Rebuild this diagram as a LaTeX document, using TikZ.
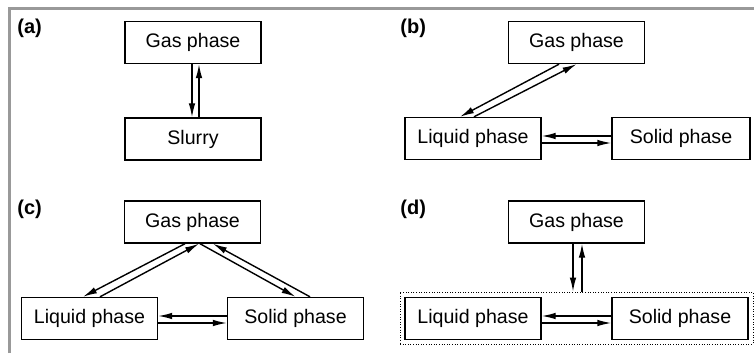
\documentclass[tikz,border=0pt]{standalone}
\usepackage{fontspec}
\setmainfont{Liberation Sans}
\usetikzlibrary{calc,arrows.meta}
\tikzset{
	phase/.style={draw, line width=0.7pt, minimum width=68pt, minimum height=21pt, inner sep=0pt, font=\fontsize{9.8}{12}\selectfont},
	flow/.style={line width=0.7pt, -{Latex[length=7pt,width=3.3pt]}},
	panel/.style={anchor=base west, inner sep=0pt, font=\bfseries\fontsize{10}{12}\selectfont}
}

\begin{document}
\begin{tikzpicture}[x=0.5pt, y=-0.5pt]
		%%%%% START %%%%%
		\useasboundingbox (0, 0) rectangle (754, 353);
		\draw[line width=1.5pt, color=black!40] (9, 353) -- (9, 9) -- (754, 9);
		
		%%%%% (a) %%%%%
		\node[panel] (labA) at (17, 34) {(a)};
		\node[phase] (gasA) at (193, 42.5) {Gas phase};
		\node[phase] (slurryA) at (193, 139) {Slurry};
		\draw[flow] ($(gasA.south)+(-1, 0)$) -- ($(slurryA.north)+(-1, 0)$);
		\draw[flow] ($(slurryA.north)+(6, 0)$) -- ($(gasA.south)+(6, 0)$);
		
		%%%%% (b) %%%%%
		\node[panel] (labB) at (400, 34) {(b)};
		\node[phase] (gasB) at (576.5, 42.5) {Gas phase};
		\node[phase] (liqB) at (473, 138.5) {Liquid phase};
		\node[phase, minimum width=69pt] (solidB) at (681, 138.5) {Solid phase};
		\draw[flow] ($(gasB.south)+(-17.5, 0)$) -- ($(liqB.north)+(-13, 0)$);
		\draw[flow] ($(liqB.north)+(1, 0)$) -- ($(gasB.south)+(0, 0)$);
		\draw[flow] ($(solidB.west)+(0, -2.5)$) -- ($(liqB.east)+(0, -2.5)$);
		\draw[flow] ($(liqB.east)+(0, 4.5)$) -- ($(solidB.west)+(0, 4.5)$);
		
		%%%%% (c) %%%%%
		\node[panel] (labC) at (17, 214) {(c)};
		\node[phase] (gasC) at (192.5, 222) {Gas phase};
		\node[phase] (liqC) at (89.5, 318.5) {Liquid phase};
		\node[phase] (solidC) at (295.5, 318.5) {Solid phase};
		\draw[flow] ($(gasC.south)+(-7.5, 0)$) -- ($(liqC.north)+(-6.5, 0)$);
		\draw[flow] ($(liqC.north)+(10.5, 0)$) -- ($(gasC.south)+(6.5, 0)$);
		\draw[flow] ($(gasC.south)+(7.5, 0)$) -- ($(solidC.north)+(0, 0)$);
		\draw[flow] ($(solidC.north)+(14.5, 0)$) -- ($(gasC.south)+(20.5, 0)$);
		\draw[flow] ($(solidC.west)+(0, -2.5)$) -- ($(liqC.east)+(0, -2.5)$);
		\draw[flow] ($(liqC.east)+(0, 4.5)$) -- ($(solidC.west)+(0, 4.5)$);
		
		%%%%% (d) %%%%%
		\node[panel] (labD) at (400, 214) {(d)};
		\node[phase] (gasD) at (576.5, 222) {Gas phase};
		\node[draw, line width=0.5pt, dash pattern=on 0.5pt off 0.8pt, minimum width=176.5pt, minimum height=26pt, inner sep=0pt] (lumpD) at (576.5, 318) {};
		\node[phase] (liqD) at (473, 318.5) {Liquid phase};
		\node[phase] (solidD) at (680, 318.5) {Solid phase};
		\draw[flow] ($(gasD.south)+(-3.5, 0)$) -- ($(lumpD.north)+(-3.5, 0)$);
		\draw[flow] ($(lumpD.north)+(5.5, 0)$) -- ($(gasD.south)+(5.5, 0)$);
		\draw[flow] ($(solidD.west)+(0, -2.5)$) -- ($(liqD.east)+(0, -2.5)$);
		\draw[flow] ($(liqD.east)+(0, 4.5)$) -- ($(solidD.west)+(0, 4.5)$);
		%%%%% END %%%%%
\end{tikzpicture}
\end{document}
